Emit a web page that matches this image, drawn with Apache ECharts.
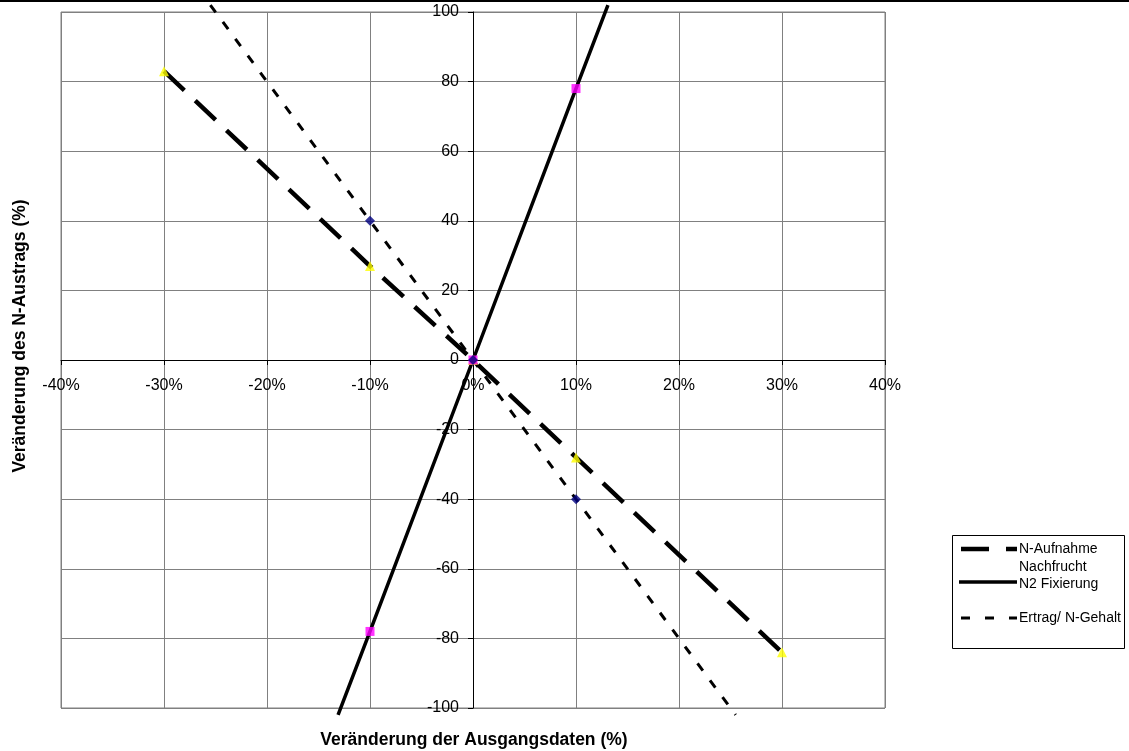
<!DOCTYPE html>
<html>
<head>
<meta charset="utf-8">
<script src="https://cdn.jsdelivr.net/npm/echarts@6/dist/echarts.min.js"></script>
<style>
html,body{margin:0;padding:0;background:#fff;}
#chart{width:1129px;height:751px;}
</style>
</head>
<body>
<div id="chart"></div>
<script>
// ---- data (x in %, y in % change) ----
const xTicks = [-40, -30, -20, -10, 0, 10, 20, 30, 40];
const yTicks = [-100, -80, -60, -40, -20, 0, 20, 40, 60, 80, 100];

const seriesNames = ['N-Aufnahme Nachfrucht', 'N2 Fixierung', 'Ertrag/ N-Gehalt'];

// N-Aufnahme Nachfrucht
const aufnahmeX = [-30, -10, 0, 10, 30];
const aufnahmeY = [83, 27, 0, -28, -84];

// N2 Fixierung (markers) and visible line ends
const fixX = [-10, 0, 10];
const fixY = [-78, 0, 78];
const fixLineEndX = [-13.1, 13.1];
const fixLineEndY = [-102, 102];

// Ertrag/ N-Gehalt (markers) and visible line ends
const ertragX = [-10, 0, 10];
const ertragY = [40, 0, -40];
const ertragLineEndX = [-25.5, 25.5];
const ertragLineEndY = [102, -102];

const zip = (xs, ys) => xs.map((x, i) => [x, ys[i]]);
const withEnds = (xs, ys, ex, ey) =>
  [[ex[0], ey[0]]].concat(zip(xs, ys), [[ex[1], ey[1]]]);

const FONT = '"Liberation Sans", Arial, sans-serif';

// plot geometry (pixels)
const G = {left: 61, right: 244, top: 12, bottom: 43};
const plotW = 1129 - G.left - G.right;
const plotH = 751 - G.top - G.bottom;
const xMin = xTicks[0], xMax = xTicks[xTicks.length - 1];
const yMin = yTicks[0], yMax = yTicks[yTicks.length - 1];
// move axes so they cross at the origin
const yAxisOffset = -plotW * (0 - xMin) / (xMax - xMin);
const xAxisOffset = -plotH * (0 - yMin) / (yMax - yMin);

const chart = echarts.init(document.getElementById('chart'), null, {renderer: 'canvas'});

const option = {
  backgroundColor: '#ffffff',
  animation: false,
  textStyle: {fontFamily: FONT},
  grid: {left: G.left, right: G.right, top: G.top, bottom: G.bottom, show: true, borderColor: '#808080', borderWidth: 1},
  xAxis: {
    type: 'value', min: xMin, max: xMax, interval: 10,
    position: 'bottom', offset: xAxisOffset,
    axisLine: {onZero: false, lineStyle: {color: '#000', width: 1}},
    axisTick: {show: true, length: 5, lineStyle: {color: '#000'}},
    axisLabel: {formatter: v => v + '%', color: '#000', fontSize: 16, fontFamily: FONT, margin: 18},
    splitLine: {show: true, lineStyle: {color: '#808080', width: 1}}
  },
  yAxis: {
    type: 'value', min: yMin, max: yMax, interval: 20,
    position: 'left', offset: yAxisOffset,
    axisLine: {onZero: false, lineStyle: {color: '#000', width: 1}},
    axisTick: {show: true, length: 5, lineStyle: {color: '#000'}},
    axisLabel: {color: '#000', fontSize: 16, fontFamily: FONT, margin: 14},
    splitLine: {show: true, lineStyle: {color: '#808080', width: 1}}
  },
  series: [
    {
      name: seriesNames[0], type: 'line', clip: false, symbol: 'none', z: 3,
      data: zip(aufnahmeX, aufnahmeY),
      lineStyle: {color: '#000', width: 4.5, type: [28, 15], cap: 'butt'}
    },
    {
      name: seriesNames[1], type: 'line', clip: false, symbol: 'none', z: 3,
      data: withEnds(fixX, fixY, fixLineEndX, fixLineEndY),
      lineStyle: {color: '#000', width: 3.5, type: 'solid'}
    },
    {
      name: seriesNames[2], type: 'line', clip: false, symbol: 'none', z: 3,
      data: withEnds(ertragX, ertragY, ertragLineEndX, ertragLineEndY),
      lineStyle: {color: '#000', width: 3, type: [9, 12], cap: 'butt'}
    },
    {
      name: seriesNames[0] + ' Marker', type: 'scatter', z: 5,
      data: zip(aufnahmeX, aufnahmeY),
      symbol: 'triangle', symbolSize: 10,
      itemStyle: {color: '#ffff00'}
    },
    {
      name: seriesNames[1] + ' Marker', type: 'scatter', z: 5,
      data: zip(fixX, fixY),
      symbol: 'rect', symbolSize: 9,
      itemStyle: {color: '#ff00ff'}
    },
    {
      name: seriesNames[2] + ' Marker', type: 'scatter', z: 5,
      data: zip(ertragX, ertragY),
      symbol: 'diamond', symbolSize: 10,
      itemStyle: {color: '#000080'}
    }
  ],
  graphic: [
    // top border line
    {type: 'line', shape: {x1: 0, y1: 1, x2: 1129, y2: 1}, style: {stroke: '#000', lineWidth: 2}, silent: true},
    // axis titles
    {type: 'text', x: 20, y: 336, rotation: Math.PI / 2,
     style: {text: 'Veränderung des N-Austrags (%)', font: 'bold 17.5px ' + FONT, fill: '#000', align: 'center', verticalAlign: 'middle'}},
    {type: 'text', x: 474, y: 740,
     style: {text: 'Veränderung der Ausgangsdaten (%)', font: 'bold 17.5px ' + FONT, fill: '#000', align: 'center', verticalAlign: 'middle'}},
    // legend box
    {type: 'rect', shape: {x: 952.5, y: 535.5, width: 172, height: 113}, style: {fill: '#fff', stroke: '#000', lineWidth: 1}},
    {type: 'line', shape: {x1: 961, y1: 549, x2: 1017, y2: 549}, style: {stroke: '#000', lineWidth: 4.5, lineDash: [28, 17]}},
    {type: 'text', x: 1019, y: 549, style: {text: 'N-Aufnahme', font: '14px ' + FONT, fill: '#000', verticalAlign: 'middle'}},
    {type: 'text', x: 1019, y: 567, style: {text: 'Nachfrucht', font: '14px ' + FONT, fill: '#000', verticalAlign: 'middle'}},
    {type: 'line', shape: {x1: 959, y1: 582, x2: 1017, y2: 582}, style: {stroke: '#000', lineWidth: 3.5}},
    {type: 'text', x: 1019, y: 584, style: {text: 'N2 Fixierung', font: '14px ' + FONT, fill: '#000', verticalAlign: 'middle'}},
    {type: 'line', shape: {x1: 961, y1: 618, x2: 1017, y2: 618}, style: {stroke: '#000', lineWidth: 3, lineDash: [9, 15]}},
    {type: 'text', x: 1019, y: 618, style: {text: 'Ertrag/ N-Gehalt', font: '14px ' + FONT, fill: '#000', verticalAlign: 'middle'}}
  ]
};

chart.setOption(option);
</script>
</body>
</html>
